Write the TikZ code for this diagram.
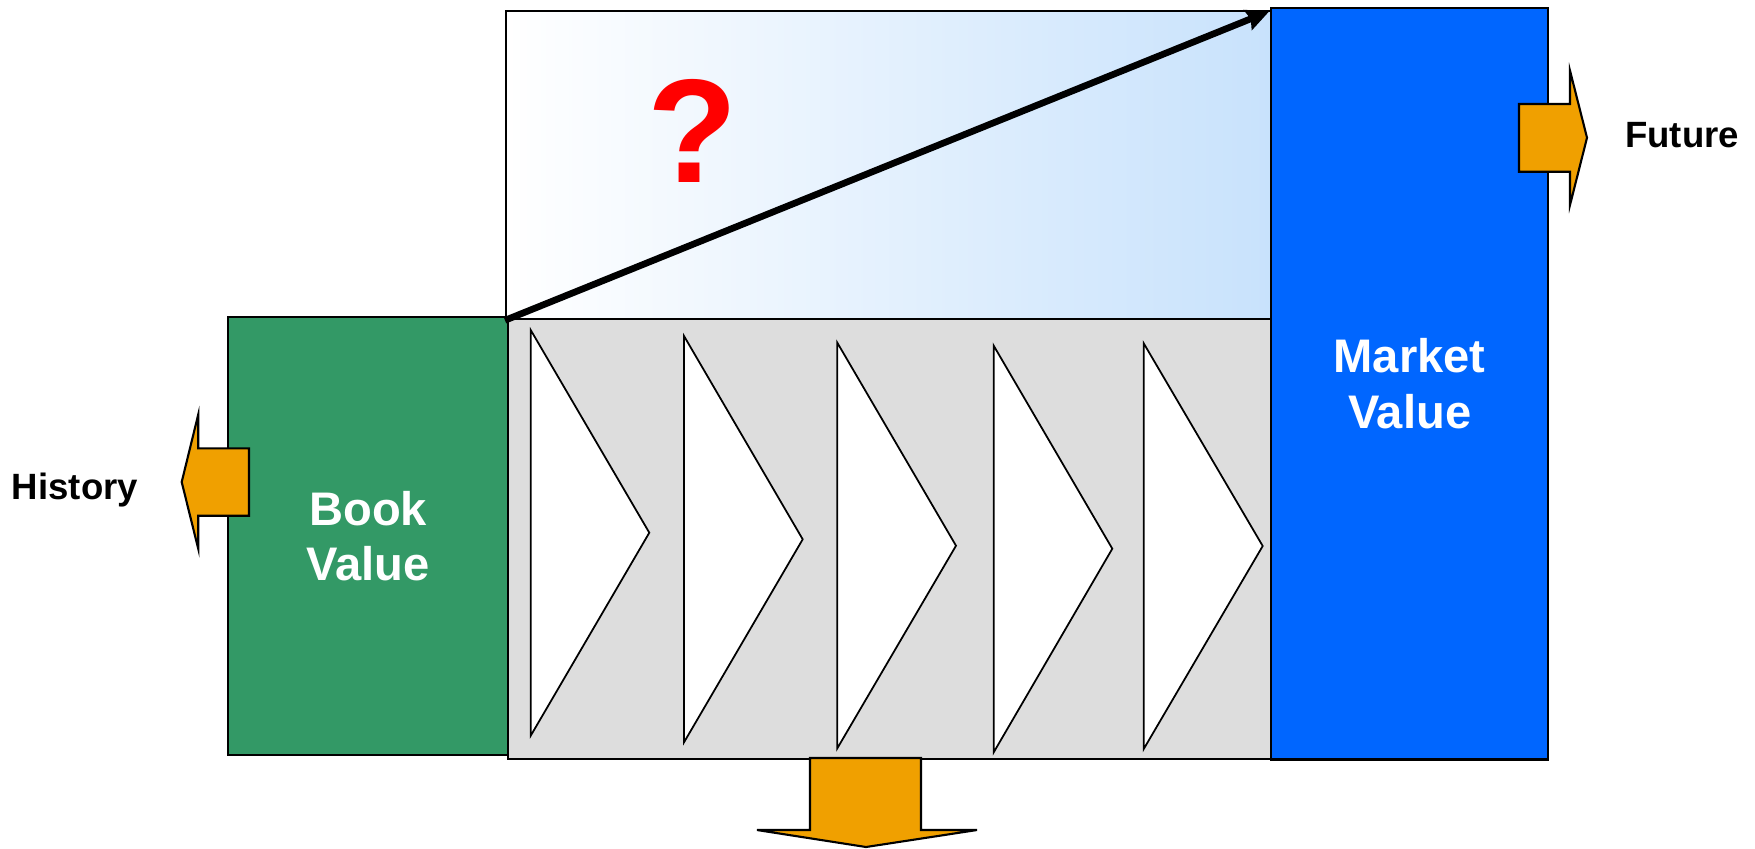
\documentclass[tikz,border=0pt]{standalone}
\usepackage{fontspec}
\setmainfont{Liberation Sans}
\usetikzlibrary{arrows.meta}
\usetikzlibrary{positioning}

\definecolor{bookgreen}{RGB}{51,153,102}
\definecolor{marketblue}{RGB}{0,102,255}
\definecolor{gapblue}{RGB}{200,226,252}
\definecolor{chaingray}{RGB}{221,221,221}
\definecolor{pointergold}{RGB}{240,160,0}

\tikzstyle{valuebox}=[draw, line width=0.6pt, inner sep=0pt, anchor=north west, text=white, align=center, font=\bfseries\fontsize{13.4}{15.9}\selectfont]
\tikzstyle{pointer}=[draw, line width=0.6pt, fill=pointergold]
\tikzstyle{stage}=[draw, line width=0.5pt, fill=white]
\tikzstyle{sidelabel}=[anchor=base, font=\bfseries\fontsize{10.4}{12}\selectfont]
\tikzstyle{gaparrow}=[-{Stealth[length=6.5pt, width=6pt, inset=0.8pt]}, line width=1.9pt, shorten >=1pt]

\begin{document}
\begin{tikzpicture}[x=0.01cm, y=-0.01cm]
    %\draw[help lines, step=100] (0,0) grid (1755, 848) ;
    \useasboundingbox (0,0) rectangle (1755,848) ;
    \node[valuebox, left color=white, right color=gapblue, minimum width=7.65cm, minimum height=3.08cm] (gap) at (505,10) {} ;
    \node[valuebox, fill=chaingray, minimum width=7.63cm, minimum height=4.40cm] (chain) at (507,318) {} ;
    \node[valuebox, fill=bookgreen, minimum width=2.80cm, minimum height=4.38cm] (book) at (227,316) {Book\\Value} ;
    \node[valuebox, fill=marketblue, minimum width=2.77cm, minimum height=7.51cm] (market) at (1270,7) {Market\\Value} ;
    % value chain steps
    \foreach \xl/\yt/\yb/\xt/\ym in {530.7/330/735.7/649.3/532.7, 684/336/742.3/802.7/539.3,
        837.3/342.7/748.3/956/545.7, 993.7/345.7/752.3/1112.3/548.7, 1143.7/343.3/749/1262.7/546}
        \draw[stage] (\xl,\yt) -- (\xt,\ym) -- (\xl,\yb) -- cycle ;
    \draw[gaparrow] (gap.south west) -- (gap.north east) ;
    \node[text=red, font=\bfseries\fontsize{42}{42}\selectfont] (query) at (693,131) {?} ;
    % history / future / down
    \draw[pointer] (249,448.3) -- (198.3,448.3) -- (198.3,414.3) -- (181.7,482) -- (198.3,549) -- (198.3,515.7) -- (249,515.7) -- cycle ;
    \draw[pointer] (1519,104) -- (1570,104) -- (1570,70.7) -- (1587,137.7) -- (1570,205) -- (1570,171.7) -- (1519,171.7) -- cycle ;
    \draw[pointer] (810,758) -- (921,758) -- (921,830) -- (977,830) -- (866,847) -- (757,830) -- (810,830) -- cycle ;
    \node[sidelabel] (past) at (75,499) {History} ;
    \node[sidelabel] (future) at (1682,147) {Future} ;
\end{tikzpicture}
\end{document}
